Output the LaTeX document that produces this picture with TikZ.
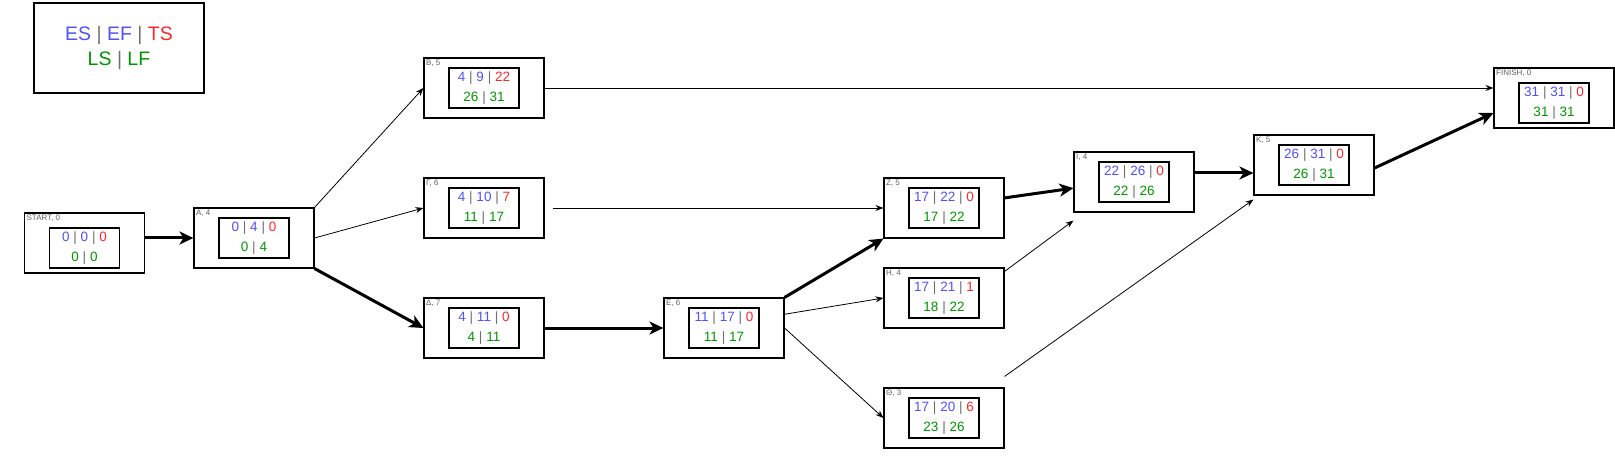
\documentclass[tikz,border=0pt]{standalone}
\usepackage{fontspec}
\setmainfont{Liberation Sans}
\usetikzlibrary{arrows.meta,calc}

\definecolor{esblue}{RGB}{80,80,255}
\definecolor{tsred}{RGB}{255,40,40}
\definecolor{lfgreen}{RGB}{0,150,0}
\definecolor{sepgray}{RGB}{110,110,110}
\definecolor{taggray}{RGB}{95,95,95}

% activity box: [inner shift] name, position, tag, ES, EF, TS, LS, LF
\newcommand{\act}[9][0]{%
	\node[outer] (#2) at (#3) {};
	\node[tag] (#2-tag) at (#2.north west) {#4};
	\node[inner,yshift=-#1pt] (#2-in) at (#2) {\blu{#5} \sep{} \blu{#6} \sep{} \red{#7}\\ \grn{#8} \sep{} \grn{#9}};
}

\begin{document}
\begin{tikzpicture}[x=1pt,y=-1pt,
	outer/.style={draw,line width=1.1pt,minimum width=120pt,minimum height=60pt,inner sep=0pt},
	inner/.style={draw,line width=1.1pt,minimum width=70pt,minimum height=40pt,inner sep=0pt,align=center,font=\fontsize{13.5}{20}\selectfont},
	tag/.style={anchor=north west,inner sep=2.5pt,text=taggray,font=\fontsize{8}{9}\selectfont},
	link/.style={-{Stealth[length=8pt,width=6pt]},line width=0.8pt},
	crit/.style={-{Stealth[length=14pt,width=13pt,inset=4pt]},line width=3pt}]
	\def\blu#1{\textcolor{esblue}{#1}}
	\def\red#1{\textcolor{tsred}{#1}}
	\def\grn#1{\textcolor{lfgreen}{#1}}
	\def\sep{\textcolor{sepgray}{|}}
	\useasboundingbox (0,0) rectangle (1615,457);

	\node[draw,line width=1.1pt,minimum width=170pt,minimum height=90pt,align=center,font=\fontsize{19.5}{25}\selectfont] (key) at (119,48)
	{\blu{ES} \sep{} \blu{EF} \sep{} \red{TS}\\ \grn{LS} \sep{} \grn{LF}};

	\act[5]{start}{84.5,243}{START, 0}{0}{0}{0}{0}{0}
	\act{a}{254,238}{A, 4}{0}{4}{0}{0}{4}
	\act{b}{484,88}{B, 5}{4}{9}{22}{26}{31}
	\act{g}{484,208}{Γ, 6}{4}{10}{7}{11}{17}
	\act{d}{484,328}{Δ, 7}{4}{11}{0}{4}{11}
	\act{e}{724,328}{E, 6}{11}{17}{0}{11}{17}
	\act{z}{944,208}{Z, 5}{17}{22}{0}{17}{22}
	\act{h}{944,298}{H, 4}{17}{21}{1}{18}{22}
	\act{t}{944,418}{Θ, 3}{17}{20}{6}{23}{26}
	\act{i}{1134,182}{I, 4}{22}{26}{0}{22}{26}
	\act{k}{1314,165}{K, 5}{26}{31}{0}{26}{31}
	\act[5]{finish}{1554,98}{FINISH, 0}{31}{31}{0}{31}{31}

	% critical path
	\draw[crit] (start.east |- a.west) -- (a.west);
	\draw[crit] (a.south east) -- (d.west);
	\draw[crit] (d.east) -- (e.west);
	\draw[crit] (e.north east) -- (z.south west);
	\draw[crit] ($(z.north east)!0.67!(z.east)$) -- ($(i.west)!0.2!(i.south west)$);
	\draw[crit] ([yshift=9pt]i.east) -- ([yshift=9pt]i.east -| k.west);
	\draw[crit] ([yshift=-3pt]k.east) -- ([yshift=-15pt]finish.west);
	% other links
	\draw[link] (a.north east) -- (b.west);
	\draw[link] (a.east) -- (g.west);
	\draw[link] (b.east) -- (b.east -| finish.west);
	\draw[link,shorten <=8pt] (g.east) -- (z.west);
	\draw[link] ($(e.north east)!0.55!(e.east)$) -- (h.west);
	\draw[link] (e.east) -- (t.west);
	\draw[link] ([yshift=-4pt]h.north east) -- ([yshift=-8pt]i.south west);
	\draw[link] ([yshift=11pt]t.north east) -- ([yshift=-4pt]k.south west);
\end{tikzpicture}
\end{document}
